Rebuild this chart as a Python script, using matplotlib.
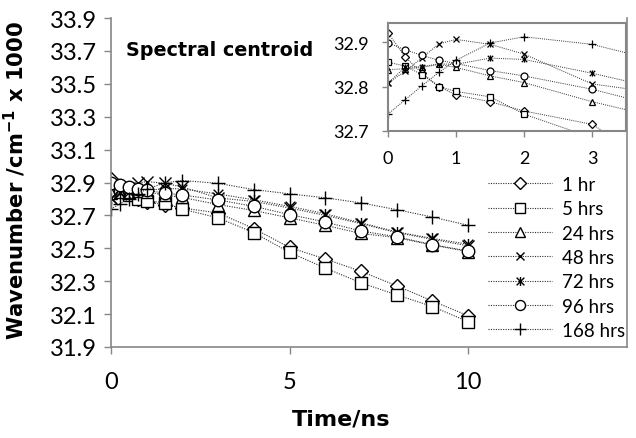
import matplotlib
matplotlib.use("Agg")
import matplotlib.pyplot as plt
from matplotlib.path import Path
import numpy as np

plt.rcParams['font.family'] = ['Lato', 'DejaVu Sans']

time = [0, 0.25, 0.5, 0.75, 1, 1.5, 2, 3, 4, 5, 6, 7, 8, 9, 10]
labels = ['1 hr', '5 hrs', '24 hrs', '48 hrs', '72 hrs', '96 hrs', '168 hrs']

hr1   = [32.921, 32.867, 32.830, 32.800, 32.781, 32.766, 32.745, 32.715, 32.620, 32.505, 32.435, 32.360, 32.272, 32.180, 32.090]
hr5   = [32.855, 32.846, 32.827, 32.800, 32.789, 32.777, 32.738, 32.685, 32.595, 32.475, 32.380, 32.290, 32.217, 32.146, 32.054]
hr24  = [32.838, 32.840, 32.843, 32.850, 32.843, 32.824, 32.809, 32.766, 32.730, 32.685, 32.640, 32.590, 32.565, 32.520, 32.480]
hr48  = [32.808, 32.834, 32.865, 32.896, 32.906, 32.895, 32.873, 32.806, 32.785, 32.745, 32.700, 32.650, 32.595, 32.555, 32.515]
hr72  = [32.808, 32.843, 32.845, 32.851, 32.850, 32.864, 32.861, 32.830, 32.795, 32.755, 32.710, 32.655, 32.600, 32.560, 32.525]
hr96  = [32.898, 32.883, 32.870, 32.859, 32.852, 32.836, 32.824, 32.794, 32.755, 32.705, 32.660, 32.605, 32.570, 32.522, 32.484]
hr168 = [32.738, 32.770, 32.802, 32.832, 32.859, 32.898, 32.912, 32.895, 32.857, 32.831, 32.807, 32.776, 32.735, 32.690, 32.640]

series = [hr1, hr5, hr24, hr48, hr72, hr96, hr168]

star = Path([(-1, -1), (1, 1), (-1, 1), (1, -1), (0, -1.15), (0, 1.15)],
            [Path.MOVETO, Path.LINETO, Path.MOVETO, Path.LINETO, Path.MOVETO, Path.LINETO])
markers = ['D', 's', '^', 'x', star, 'o', '+']
msize_main = [7.5, 8.5, 8.5, 8, 8, 9, 10]
msize_ins = [4.5, 5, 5, 4.5, 4.5, 5, 6]

gray = '#868686'
ls = (0, (1, 1.2))
bold_font = ['DejaVu Sans']

fig = plt.figure(figsize=(6.36, 4.39), dpi=100)
ax = fig.add_axes([111/636, 1-348/439, (627-111)/636, (348-19)/439])

for ys, m, ms, lab in zip(series, markers, msize_main, labels):
    ax.plot(time, ys, linestyle=ls, color='#303030', lw=0.8, marker=m, ms=ms,
            mfc='white', mec='black', mew=1.0, label=lab)

ax.set_xlim(0, 14.45)
ax.set_ylim(31.9, 33.9)
ax.set_xticks([0, 5, 10])
ax.set_yticks(np.round(np.arange(31.9, 33.91, 0.2), 1))
ax.set_yticklabels([f"{v:.1f}" for v in np.arange(31.9, 33.91, 0.2)])
for s in ['left', 'bottom', 'right']:
    ax.spines[s].set_color(gray)
    ax.spines[s].set_linewidth(1.2)
ax.spines['top'].set_visible(False)
ax.tick_params(axis='both', direction='out', length=5, width=1.0, color=gray, labelsize=17)
ax.tick_params(axis='x', pad=12)
ax.tick_params(axis='y', pad=5)
ax.set_xlabel('Time/ns', fontsize=16, fontweight='bold', family=bold_font)
ax.xaxis.set_label_coords(0.446, -0.186)
ax.set_ylabel('Wavenumber /cm$^{\\mathbf{-1}}$ x 1000', fontsize=15.2, fontweight='bold',
              family=bold_font)
ax.yaxis.set_label_coords(-0.16, 0.51)
ax.text(126/636, 1-50/439, 'Spectral centroid', transform=fig.transFigure,
        fontsize=13.8, fontweight='bold', family=bold_font, va='center', ha='left')

leg = ax.legend(loc='upper left', bbox_to_anchor=(488/636, 1-177/439), bbox_transform=fig.transFigure,
                frameon=False, fontsize=13.5, handlelength=3.4, handletextpad=0.53,
                labelspacing=0.39, borderpad=0, borderaxespad=0, markerscale=0.8)

ins = fig.add_axes([388/636, 1-132/439, (626-388)/636, (132-24)/439])
ins.set_facecolor('white')
for ys, m, ms in zip(series, markers, msize_ins):
    ins.plot(time, ys, linestyle=ls, color='#303030', lw=0.7, marker=m, ms=ms,
             mfc='white', mec='black', mew=0.9)
ins.set_xlim(0, 3.5)
ins.set_ylim(32.7, 32.943)
ins.set_xticks([0, 1, 2, 3])
ins.set_yticks([32.7, 32.8, 32.9])
ins.set_yticklabels(['32.7', '32.8', '32.9'])
for s in ins.spines.values():
    s.set_color(gray)
    s.set_linewidth(1.5)
ins.tick_params(axis='both', direction='out', length=4, width=1.0, color=gray, labelsize=13)
ins.tick_params(axis='x', pad=10)
ins.tick_params(axis='y', pad=10)

fig.savefig('out.png', dpi=100)
